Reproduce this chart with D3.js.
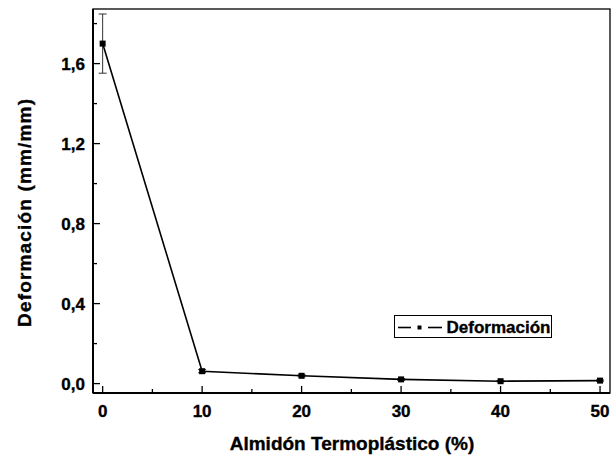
<!DOCTYPE html>
<html><head><meta charset="utf-8">
<script src="https://cdn.jsdelivr.net/npm/d3@7"></script>
<style>body{margin:0;background:#fff}svg{display:block}text{font-family:"Liberation Sans",Arial,sans-serif;font-weight:bold;stroke:#000;stroke-width:0.35px}</style>
</head><body>
<svg id="c" width="616" height="455"></svg>
<script>
const xValues = [0, 10, 20, 30, 40, 50];
const yValues = [1.70, 0.062, 0.039, 0.021, 0.012, 0.015];
const yErrors = [0.148, 0.008, 0.005, 0.004, 0.003, 0.003];
const xTicks = [0, 10, 20, 30, 40, 50];
const yTicks = [0.0, 0.4, 0.8, 1.2, 1.6];
const seriesName = "Deformación";
const xTitle = "Almidón Termoplástico (%)";
const yTitle = "Deformación (mm/mm)";

const svg = d3.select("#c");
const L = 93, R = 610, T = 9, B = 393;
const x = d3.scaleLinear().domain([-0.97, 51.0]).range([L, R]);
const y = d3.scaleLinear().domain([-0.047, 1.873]).range([B, T]);

// frame
svg.append("rect").attr("x", L).attr("y", T).attr("width", R - L).attr("height", B - T)
  .attr("fill", "none").attr("stroke", "#000").attr("stroke-width", 1.3);
svg.append("line").attr("x1", L).attr("x2", L).attr("y1", T).attr("y2", B).attr("stroke", "#000").attr("stroke-width", 2);
svg.append("line").attr("x1", L).attr("x2", R).attr("y1", B).attr("y2", B).attr("stroke", "#000").attr("stroke-width", 2);

// x axis ticks (inward)
const xMinor = d3.range(5, 51, 10);
const gx = svg.append("g");
xTicks.forEach(v => {
  gx.append("line").attr("x1", x(v)).attr("x2", x(v)).attr("y1", B).attr("y2", B - 7).attr("stroke", "#000").attr("stroke-width", 1.3);
  gx.append("text").attr("x", x(v)).attr("y", B + 24).attr("text-anchor", "middle").attr("font-size", 17).text(v);
});
xMinor.forEach(v => {
  gx.append("line").attr("x1", x(v)).attr("x2", x(v)).attr("y1", B).attr("y2", B - 4).attr("stroke", "#000").attr("stroke-width", 1.3);
});
// y axis ticks
const fmt = v => v.toFixed(1).replace(".", ",");
const yMinor = [0.2, 0.6, 1.0, 1.4, 1.8];
const gy = svg.append("g");
yTicks.forEach(v => {
  gy.append("line").attr("x1", L).attr("x2", L + 7).attr("y1", y(v)).attr("y2", y(v)).attr("stroke", "#000").attr("stroke-width", 1.3);
  gy.append("text").attr("x", L - 8).attr("y", y(v) + 6).attr("text-anchor", "end").attr("font-size", 17).text(fmt(v));
});
yMinor.forEach(v => {
  gy.append("line").attr("x1", L).attr("x2", L + 4).attr("y1", y(v)).attr("y2", y(v)).attr("stroke", "#000").attr("stroke-width", 1.3);
});

// axis titles
svg.append("text").attr("x", 352).attr("y", 450).attr("text-anchor", "middle").attr("font-size", 19).text(xTitle);
svg.append("text").attr("transform", `translate(31,213) rotate(-90)`).attr("text-anchor", "middle").attr("font-size", 19)
  .attr("textLength", 228).attr("lengthAdjust", "spacing").text(yTitle);

// error bars
const data = xValues.map((v, i) => ({x: v, y: yValues[i], e: yErrors[i]}));
const ge = svg.append("g").attr("stroke", "#333").attr("stroke-width", 1);
data.forEach(d => {
  ge.append("line").attr("x1", x(d.x)).attr("x2", x(d.x)).attr("y1", y(d.y - d.e)).attr("y2", y(d.y + d.e));
  [d.y - d.e, d.y + d.e].forEach(v => ge.append("line").attr("x1", x(d.x) - 4).attr("x2", x(d.x) + 4).attr("y1", y(v)).attr("y2", y(v)));
});

// line
svg.append("path").datum(data).attr("fill", "none").attr("stroke", "#000").attr("stroke-width", 1.6)
  .attr("d", d3.line().x(d => x(d.x)).y(d => y(d.y)));
svg.append("g").selectAll("rect").data(data).join("rect")
  .attr("x", d => x(d.x) - 3).attr("y", d => y(d.y) - 3).attr("width", 6).attr("height", 6).attr("fill", "#000");

// legend
const lg = svg.append("g");
lg.append("rect").attr("x", 394.5).attr("y", 315.5).attr("width", 157).attr("height", 22).attr("fill", "#fff").attr("stroke", "#000").attr("stroke-width", 1);
lg.append("line").attr("x1", 398).attr("x2", 411).attr("y1", 327.5).attr("y2", 327.5).attr("stroke", "#000").attr("stroke-width", 1.6);
lg.append("line").attr("x1", 428).attr("x2", 442).attr("y1", 327.5).attr("y2", 327.5).attr("stroke", "#000").attr("stroke-width", 1.6);
lg.append("rect").attr("x", 417.5).attr("y", 325.5).attr("width", 4).attr("height", 4).attr("fill", "#000");
lg.append("text").attr("x", 446.5).attr("y", 332.5).attr("font-size", 17).text(seriesName);
</script>
</body></html>
